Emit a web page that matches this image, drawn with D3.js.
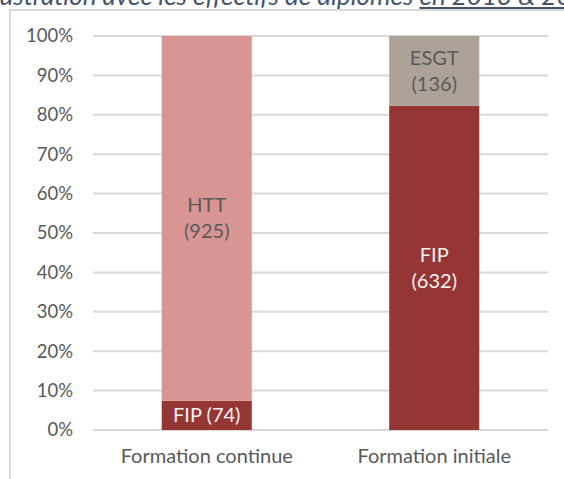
<!DOCTYPE html>
<html>
<head>
<meta charset="utf-8">
<script src="https://cdn.jsdelivr.net/npm/d3@7"></script>
<style>
  html, body { margin: 0; padding: 0; background: #fff; }
  svg { display: block; font-family: Lato, "Open Sans", sans-serif; }
</style>
</head>
<body>
<script>
// data
const categories = ["Formation continue", "Formation initiale"];
const segments = ["FIP", "HTT", "ESGT"];
const fipValues  = [74, 632];
const httValues  = [925, 0];
const esgtValues = [0, 136];
const yTicks = [0, 0.1, 0.2, 0.3, 0.4, 0.5, 0.6, 0.7, 0.8, 0.9, 1];
const titleText = "Illustration avec les effectifs de diplômés ";
const titleUnderlined = "en 2013 & 2014";

const width = 564, height = 479;
const colors = {FIP: "#963634", HTT: "#d99594", ESGT: "#aca298"};
const labelColors = {FIP: "#f2f2f2", HTT: "#595959", ESGT: "#595959"};

const rows = categories.map((c, i) => {
  const total = fipValues[i] + httValues[i] + esgtValues[i];
  return {cat: c, FIP: fipValues[i], HTT: httValues[i], ESGT: esgtValues[i], total};
});
const share = rows.map(r => ({cat: r.cat, FIP: r.FIP / r.total, HTT: r.HTT / r.total, ESGT: r.ESGT / r.total, raw: r}));

const series = d3.stack().keys(segments)(share);

const svg = d3.select("body").append("svg")
  .attr("width", width)
  .attr("height", height);

// title line, cut at the top like the source image
const title = svg.append("text")
  .attr("x", -19).attr("y", 5)
  .attr("font-style", "italic")
  .attr("font-size", 26)
  .attr("fill", "#44546a");
title.append("tspan").text(titleText);
title.append("tspan").attr("text-decoration", "underline").text(titleUnderlined);

// chart frame
svg.append("path")
  .attr("d", `M10,${height}V10H${width}`)
  .attr("fill", "none")
  .attr("stroke", "#d9d9d9")
  .attr("stroke-width", 2);

const x = d3.scaleBand()
  .domain(categories)
  .range([93, 548])
  .paddingInner(0.604)
  .paddingOuter(0.302);

const y = d3.scaleLinear().domain([0, 1]).range([430, 36]);

// gridlines
svg.append("g")
  .selectAll("line")
  .data(yTicks)
  .join("line")
  .attr("x1", 93).attr("x2", 548)
  .attr("y1", d => y(d)).attr("y2", d => y(d))
  .attr("stroke", "#d9d9d9")
  .attr("stroke-width", 2);

// y axis labels
const yAxis = svg.append("g")
  .attr("transform", "translate(93,0)")
  .call(d3.axisLeft(y).tickValues(yTicks).tickFormat(d3.format(".0%")).tickSize(0).tickPadding(20));
yAxis.select(".domain").remove();
yAxis.selectAll("text")
  .attr("font-size", 18.5)
  .attr("font-family", "Lato, sans-serif")
  .attr("fill", "#595959");

// x axis labels
const xAxis = svg.append("g")
  .attr("transform", "translate(0,430)")
  .call(d3.axisBottom(x).tickSize(0).tickPadding(19));
xAxis.select(".domain").remove();
xAxis.selectAll("text")
  .attr("font-size", 20)
  .attr("font-family", "Lato, sans-serif")
  .attr("fill", "#595959");

// bars
const layer = svg.append("g")
  .selectAll("g")
  .data(series)
  .join("g")
  .attr("fill", d => colors[d.key]);

layer.selectAll("rect")
  .data(d => d.map(p => ({key: d.key, p})))
  .join("rect")
  .attr("x", d => x(d.p.data.cat))
  .attr("width", x.bandwidth())
  .attr("y", d => y(d.p[1]))
  .attr("height", d => y(d.p[0]) - y(d.p[1]));

// segment labels
const labels = [];
series.forEach(s => {
  s.forEach(p => {
    const v = p.data.raw[s.key];
    if (!v) return;
    const h = y(p[0]) - y(p[1]);
    const lines = h > 40 ? [s.key, `(${v})`] : [`${s.key} (${v})`];
    labels.push({key: s.key, cx: x(p.data.cat) + x.bandwidth() / 2, cy: (y(p[0]) + y(p[1])) / 2, lines});
  });
});

const lab = svg.append("g")
  .selectAll("text")
  .data(labels)
  .join("text")
  .attr("text-anchor", "middle")
  .attr("font-size", 20)
  .attr("fill", d => labelColors[d.key])
  .attr("x", d => d.cx)
  .attr("y", d => d.cy - (d.lines.length - 1) * 13 + 7);

lab.selectAll("tspan")
  .data(d => d.lines.map((t, i) => ({t, i, cx: d.cx})))
  .join("tspan")
  .attr("x", d => d.cx)
  .attr("dy", d => d.i ? 26 : 0)
  .text(d => d.t);
</script>
</body>
</html>
